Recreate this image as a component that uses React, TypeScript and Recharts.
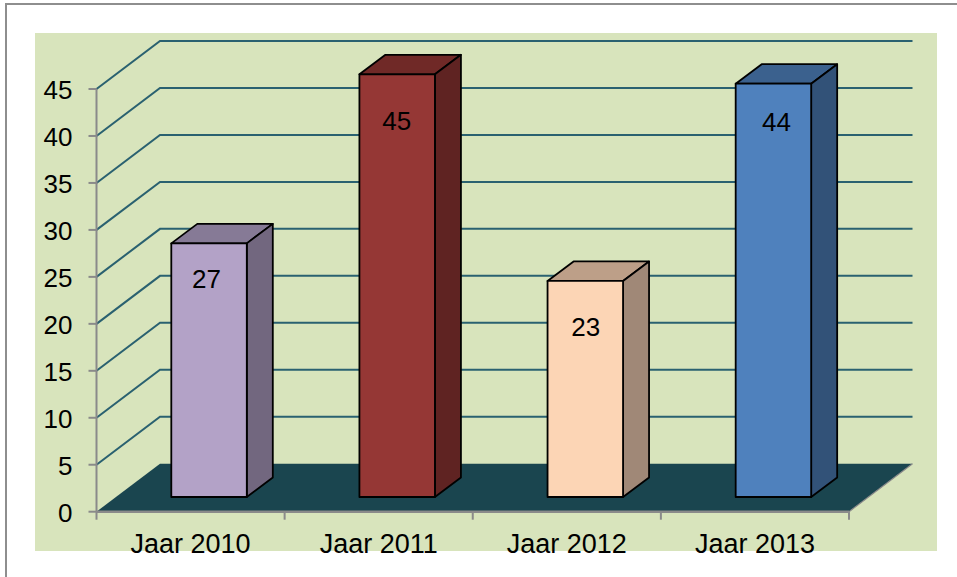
import React from 'react';
import { BarChart, Bar, XAxis, YAxis, CartesianGrid, LabelList } from 'recharts';

const categories = ['Jaar 2010', 'Jaar 2011', 'Jaar 2012', 'Jaar 2013'];
const values = [27, 45, 23, 44];
const yTicks = [0, 5, 10, 15, 20, 25, 30, 35, 40, 45];

const frontColors = ['#B3A2C7', '#953735', '#FCD5B5', '#4F81BD'];
const topColors = ['#867A96', '#702927', '#BD9F88', '#3B618E'];
const sideColors = ['#72677F', '#5F2322', '#A08877', '#325278'];

const data = categories.map((name, i) => ({ name, value: values[i] }));

const FONT = '"Liberation Sans", Arial, sans-serif';
const FONT_SIZE = 26;
const AXIS_COLOR = '#8A8A8A';
const GRID_COLOR = '#2A6170';
const FLOOR_COLOR = '#1A454F';

const WIDTH = 957;
const HEIGHT = 577;
const MARGIN = { top: 89, right: 108, bottom: 25.3, left: 36.5 };
const Y_AXIS_WIDTH = 60;
const X_AXIS_HEIGHT = 40;
const PLOT_LEFT = MARGIN.left + Y_AXIS_WIDTH;
const BAND = (WIDTH - PLOT_LEFT - MARGIN.right) / categories.length;

// depth of the back wall, and of a bar
const WALL_DX = 63.5;
const WALL_DY = 48;
const BAR_DX = 26;
const BAR_DY = 19.5;
// how far a bar stands from the front edge of the floor
const SHIFT_X = 18.8;
const SHIFT_Y = -14.7;
const BAR_WIDTH = 75.5;

// label position under the top of each bar, as in the picture
const labelDrop = [35.5, 46.5, 46, 38];
const labelNudge = [-2.5, -0.5, 0.5, 3];

const wallLine = (props: any) => {
  const { x1, x2, y1, index } = props;
  if (y1 > 500) {
    return (
      <g key={`floor-${index}`}>
        <polygon
          points={`${x1},${y1} ${x1 + WALL_DX},${y1 - WALL_DY} ${x2 + WALL_DX},${y1 - WALL_DY} ${x2},${y1}`}
          fill={FLOOR_COLOR}
        />
        <line x1={x2} y1={y1} x2={x2 + WALL_DX} y2={y1 - WALL_DY} stroke={AXIS_COLOR} strokeWidth={1.2} />
      </g>
    );
  }
  return (
    <polyline
      key={`wall-${index}`}
      points={`${x1},${y1} ${x1 + WALL_DX},${y1 - WALL_DY} ${x2 + WALL_DX},${y1 - WALL_DY}`}
      fill="none"
      stroke={GRID_COLOR}
      strokeWidth={2}
    />
  );
};

const Bar3D = (props: any) => {
  const { x, y, width, height, index } = props;
  const left = x + SHIFT_X;
  const top = y + SHIFT_Y;
  const right = left + width;
  const bottom = top + height;
  return (
    <g stroke="#000" strokeWidth={1.8} strokeLinejoin="round">
      <polygon
        points={`${left},${top} ${left + BAR_DX},${top - BAR_DY} ${right + BAR_DX},${top - BAR_DY} ${right},${top}`}
        fill={topColors[index]}
      />
      <polygon
        points={`${right},${top} ${right + BAR_DX},${top - BAR_DY} ${right + BAR_DX},${bottom - BAR_DY} ${right},${bottom}`}
        fill={sideColors[index]}
      />
      <rect x={left} y={top} width={width} height={height} fill={frontColors[index]} />
    </g>
  );
};

const BarLabel = (props: any) => {
  const { x, y, width, value, index } = props;
  return (
    <text
      x={x + SHIFT_X + width / 2 + labelNudge[index]}
      y={y + SHIFT_Y + labelDrop[index]}
      textAnchor="middle"
      dominantBaseline="central"
      fontFamily={FONT}
      fontSize={FONT_SIZE}
      fill="#000"
    >
      {value}
    </text>
  );
};

const CategoryTick = (props: any) => {
  const { x, y, payload, index } = props;
  const mark = (at: number) => (
    <line x1={at} y1={y - 8} x2={at} y2={y} stroke={AXIS_COLOR} strokeWidth={2} />
  );
  return (
    <g>
      {index === 0 && mark(x - BAND / 2)}
      {mark(x + BAND / 2)}
      <text x={x} y={y + 33} textAnchor="middle" fontFamily={FONT} fontSize={27} fill="#000">
        {payload.value}
      </text>
    </g>
  );
};

export default function App() {
  return (
    <div style={{ position: 'absolute', left: 0, top: 0, width: WIDTH, height: HEIGHT, overflow: 'hidden', background: '#fff' }}>
      <div
        style={{
          position: 'absolute',
          left: 5,
          top: 3,
          right: 0,
          bottom: 0,
          borderTop: '2px solid #8E8E8E',
          borderLeft: '2px solid #8E8E8E',
        }}
      />
      <div style={{ position: 'absolute', left: 35, top: 33, width: 902, height: 518, background: '#D8E4BC' }} />
      <div style={{ position: 'absolute', left: 0, top: 0 }}>
        <BarChart width={WIDTH} height={HEIGHT} data={data} margin={MARGIN} barSize={BAR_WIDTH}>
          <CartesianGrid vertical={false} horizontal={wallLine} />
          <XAxis
            dataKey="name"
            height={X_AXIS_HEIGHT}
            axisLine={{ stroke: AXIS_COLOR, strokeWidth: 2.5 }}
            tickLine={false}
            tick={CategoryTick}
            interval={0}
          />
          <YAxis
            domain={[0, 45]}
            ticks={yTicks}
            width={Y_AXIS_WIDTH}
            interval={0}
            axisLine={{ stroke: AXIS_COLOR, strokeWidth: 2 }}
            tickLine={{ stroke: AXIS_COLOR, strokeWidth: 2 }}
            tickSize={8}
            tickMargin={16}
            tick={{ fontFamily: FONT, fontSize: FONT_SIZE, fill: '#000', dy: 1 }}
          />
          <Bar dataKey="value" shape={Bar3D} isAnimationActive={false}>
            <LabelList dataKey="value" content={BarLabel} />
          </Bar>
        </BarChart>
      </div>
    </div>
  );
}
